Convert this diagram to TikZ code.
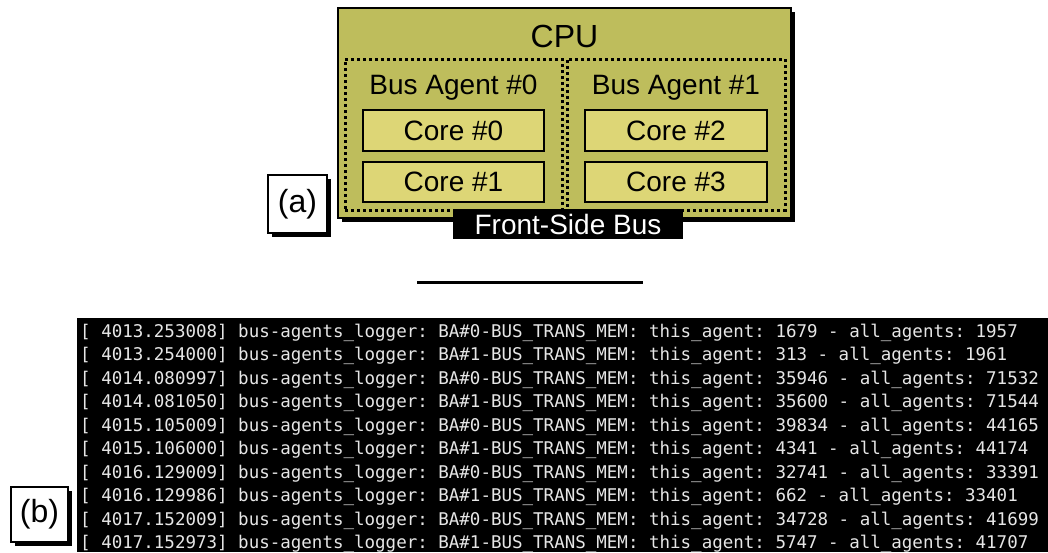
\documentclass[tikz,border=0pt]{standalone}
\usepackage{fontspec}
\setmainfont{Liberation Sans}
\newfontfamily\termfont{DejaVu Sans Mono}
\definecolor{cpufill}{RGB}{190,189,92}
\definecolor{corefill}{RGB}{221,214,118}
\definecolor{termtext}{RGB}{230,230,230}
\tikzset{
  shadowed/.style={preaction={fill=black, transform canvas={shift={(4pt,-4pt)}}}},
  cpubox/.style={shadowed, draw=black, line width=1.5pt, fill=cpufill, inner sep=0pt},
  agentbox/.style={draw=black, line width=3pt, dash pattern=on 3pt off 3pt, inner sep=0pt},
  corebox/.style={draw=black, line width=2.5pt, fill=corefill, inner sep=0pt,
    font=\fontsize{28}{28}\selectfont},
  bigtext/.style={inner sep=0pt, anchor=base, font=\fontsize{28}{28}\selectfont},
  fsbbox/.style={fill=black, text=white, inner sep=0pt, font=\fontsize{28}{28}\selectfont},
  labelbox/.style={shadowed, draw=black, line width=1.5pt, fill=white, inner sep=0pt,
    font=\fontsize{32}{32}\selectfont},
  termline/.style={anchor=base west, inner sep=0pt, text=termtext,
    font=\termfont\fontsize{17.5}{17.5}\selectfont\frenchspacing},
}
\begin{document}
\begin{tikzpicture}[x=1pt,y=-1pt]
\useasboundingbox (0,0) rectangle (1048,552);
% (a) CPU diagram
\node[cpubox, minimum width=453pt, minimum height=210pt] (cpu) at (564.5,113) {};
\node[inner sep=0pt, anchor=base, font=\fontsize{32}{32}\selectfont] (cputxt) at (564.5,47) {CPU};
\node[agentbox, minimum width=217pt, minimum height=151pt] (ba0) at (453.5,134.5) {};
\node[agentbox, minimum width=218pt, minimum height=151pt] (ba1) at (676,134.5) {};
\node[bigtext] (ba0txt) at (453.5,94) {Bus Agent \#0};
\node[bigtext] (ba1txt) at (676,94) {Bus Agent \#1};
\node[corebox, minimum width=181pt, minimum height=41pt] (c0) at (453.5,130.5) {Core \#0};
\node[corebox, minimum width=181pt, minimum height=40pt] (c1) at (453.5,182) {Core \#1};
\node[corebox, minimum width=182pt, minimum height=41pt] (c2) at (676,130.5) {Core \#2};
\node[corebox, minimum width=182pt, minimum height=40pt] (c3) at (676,182) {Core \#3};
\node[fsbbox, minimum width=230pt, minimum height=30pt] (fsb) at (568,224) {Front-Side Bus};
\node[labelbox, minimum width=59pt, minimum height=58pt] (la) at (297.5,204) {(a)};
% separator
\coordinate (sepL) at (417,282);
\coordinate (sepR) at (643,282);
\draw[line width=3pt] (sepL) -- (sepR);
% (b) terminal log
\fill[black] (77,318) rectangle (1048,552);
\node[termline] (t1) at (80,337.0) {[ 4013.253008] bus-agents\_logger: BA\#0-BUS\_TRANS\_MEM: this\_agent: 1679 - all\_agents: 1957};
\node[termline] (t2) at (80,360.5) {[ 4013.254000] bus-agents\_logger: BA\#1-BUS\_TRANS\_MEM: this\_agent: 313 - all\_agents: 1961};
\node[termline] (t3) at (80,384.0) {[ 4014.080997] bus-agents\_logger: BA\#0-BUS\_TRANS\_MEM: this\_agent: 35946 - all\_agents: 71532};
\node[termline] (t4) at (80,407.5) {[ 4014.081050] bus-agents\_logger: BA\#1-BUS\_TRANS\_MEM: this\_agent: 35600 - all\_agents: 71544};
\node[termline] (t5) at (80,431.0) {[ 4015.105009] bus-agents\_logger: BA\#0-BUS\_TRANS\_MEM: this\_agent: 39834 - all\_agents: 44165};
\node[termline] (t6) at (80,454.5) {[ 4015.106000] bus-agents\_logger: BA\#1-BUS\_TRANS\_MEM: this\_agent: 4341 - all\_agents: 44174};
\node[termline] (t7) at (80,478.0) {[ 4016.129009] bus-agents\_logger: BA\#0-BUS\_TRANS\_MEM: this\_agent: 32741 - all\_agents: 33391};
\node[termline] (t8) at (80,501.5) {[ 4016.129986] bus-agents\_logger: BA\#1-BUS\_TRANS\_MEM: this\_agent: 662 - all\_agents: 33401};
\node[termline] (t9) at (80,525.0) {[ 4017.152009] bus-agents\_logger: BA\#0-BUS\_TRANS\_MEM: this\_agent: 34728 - all\_agents: 41699};
\node[termline] (t10) at (80,548.5) {[ 4017.152973] bus-agents\_logger: BA\#1-BUS\_TRANS\_MEM: this\_agent: 5747 - all\_agents: 41707};
\node[labelbox, minimum width=57pt, minimum height=55pt] (lb) at (39.5,514.5) {(b)};
\end{tikzpicture}
\end{document}
